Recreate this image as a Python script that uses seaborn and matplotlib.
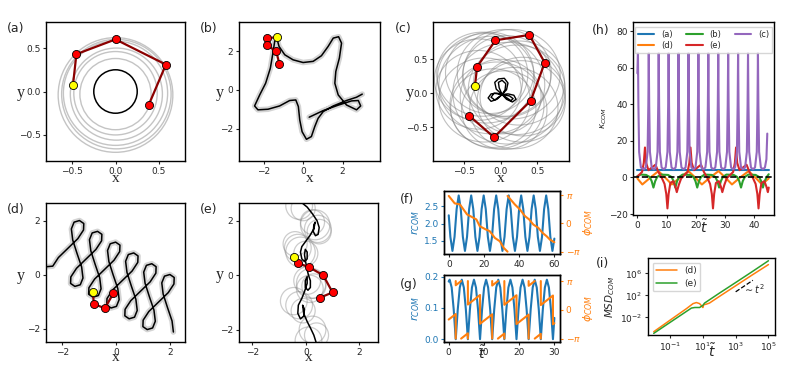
import numpy as np
import seaborn as sns
import matplotlib.pyplot as plt
from matplotlib.patches import Circle
from matplotlib.ticker import NullLocator

sns.set_style("ticks")
plt.rcParams["font.family"] = ["DejaVu Sans"]
plt.rcParams["mathtext.fontset"] = "dejavusans"
plt.rcParams["axes.edgecolor"] = "black"
plt.rcParams["axes.linewidth"] = 1.0
plt.rcParams["xtick.labelsize"] = 6.5
plt.rcParams["ytick.labelsize"] = 6.5
plt.rcParams["xtick.major.size"] = 2.5
plt.rcParams["ytick.major.size"] = 2.5
plt.rcParams["xtick.major.pad"] = 1.5
plt.rcParams["ytick.major.pad"] = 1.5

BLUE, ORANGE, GREEN, RED, PURPLE = "#1f77b4", "#ff7f0e", "#2ca02c", "#d62728", "#9467bd"

# ---------------- (a) ----------------
a_orbit_x = [0.0, 0.0, 0.01, 0.0, 0.01, 0.0]
a_orbit_y = [-0.03, -0.02, -0.03, -0.02, -0.03, -0.04]
a_orbit_r = [0.41, 0.48, 0.53, 0.60, 0.63, 0.66]
a_com_r = 0.25
a_chain_x = [-0.49, -0.45, 0.0, 0.58, 0.38]
a_chain_y = [0.07, 0.43, 0.60, 0.31, -0.16]

# ---------------- (b) ----------------
b_x = [0.31, 1.02, 1.78, 2.46, 2.80, 2.92, 2.71, 2.20, 1.78, 1.61, 1.66, 1.84, 1.95, 1.80,
       1.53, 1.27, 0.93, 0.51, 0.0, -0.51, -0.93, -1.22, -1.32, -1.44, -1.53, -1.66, -1.90,
       -2.20, -2.46, -2.29, -1.78, -1.19, -0.68, -0.37, -0.24, -0.17, -0.05, 0.17, 0.42,
       0.59, 0.76, 1.02, 1.53, 2.20, 2.71, 3.0]
b_y = [-1.41, -1.07, -0.79, -0.57, -0.55, -0.83, -1.03, -0.78, -0.26, 0.34, 0.95, 1.64, 2.41,
       2.74, 2.67, 2.24, 1.76, 1.47, 1.41, 1.55, 1.81, 2.24, 2.62, 2.50, 1.90, 1.12, 0.34,
       -0.26, -0.83, -1.03, -1.0, -0.83, -0.55, -0.52, -0.86, -1.55, -2.16, -2.55, -2.41,
       -1.90, -1.47, -1.12, -0.83, -0.55, -0.38, -0.22]
b_chain_x = [-1.34, -1.81, -1.83, -1.36, -1.20]
b_chain_y = [2.71, 2.67, 2.31, 1.98, 1.33]

# ---------------- (c) ----------------
c_orbit_x = [-0.30, -0.25, -0.15, 0.05, 0.15, 0.25, 0.30, 0.28, 0.18, 0.05, -0.10, -0.22,
             -0.30, -0.12, 0.10, 0.0, -0.20, 0.22, 0.08, -0.05]
c_orbit_y = [0.20, 0.28, 0.30, 0.30, 0.28, 0.15, -0.05, -0.12, -0.22, -0.25, -0.22, -0.10,
             0.05, 0.12, 0.0, -0.05, 0.22, 0.05, 0.25, -0.18]
c_orbit_r = [0.60, 0.62, 0.60, 0.64, 0.66, 0.62, 0.58, 0.60, 0.60, 0.58, 0.58, 0.62, 0.58,
             0.72, 0.75, 0.55, 0.66, 0.66, 0.60, 0.64]
c_com_x = [0.02, -0.06, -0.08, -0.03, 0.05, 0.10, 0.08, 0.02, 0.10, 0.18, 0.21, 0.16, 0.08,
           0.02, -0.05, -0.13, -0.17, -0.13, -0.05, 0.02, -0.02, -0.03, 0.02, 0.07, 0.06,
           0.02, 0.12, 0.17, 0.14, 0.02, -0.08, -0.13, -0.09, 0.02]
c_com_y = [-0.02, 0.06, 0.16, 0.21, 0.22, 0.15, 0.05, -0.02, -0.01, -0.03, -0.09, -0.13, -0.09,
           -0.02, -0.09, -0.12, -0.07, -0.01, 0.0, -0.02, 0.08, 0.16, 0.19, 0.14, 0.05,
           -0.02, -0.04, -0.08, -0.11, -0.02, -0.10, -0.06, 0.0, -0.02]
c_chain_x = [-0.35, -0.32, -0.07, 0.39, 0.60, 0.41, -0.09, -0.43]
c_chain_y = [0.10, 0.39, 0.78, 0.86, 0.45, -0.11, -0.65, -0.33]

# ---------------- (d) ----------------
d_x = [-2.70, -2.35, -2.14,
       -1.78, -1.42, -1.21, -1.20, -1.36, -1.56, -1.66, -1.61, -1.45, -1.28, -1.23, -1.33,
       -1.53, -1.69, -1.68, -1.47,
       -1.11, -0.75, -0.54, -0.53, -0.69, -0.89, -0.99, -0.94, -0.78, -0.61, -0.56, -0.66,
       -0.86, -1.02, -1.01, -0.80,
       -0.44, -0.08, 0.13, 0.14, -0.02, -0.22, -0.32, -0.27, -0.11, 0.06, 0.11, 0.01,
       -0.19, -0.35, -0.34, -0.13,
       0.23, 0.59, 0.80, 0.81, 0.65, 0.45, 0.35, 0.40, 0.56, 0.73, 0.78, 0.68,
       0.48, 0.32, 0.33, 0.54,
       0.90, 1.26, 1.47, 1.48, 1.32, 1.12, 1.02, 1.07, 1.23, 1.40, 1.45, 1.35,
       1.15, 0.99, 1.00, 1.21,
       1.57, 1.93, 2.14, 2.15, 1.99, 1.79, 1.69, 1.74, 1.90, 2.07, 2.12]
d_y = [0.28, 0.31, 0.63,
       0.98, 1.33, 1.65, 1.89, 2.00, 1.94, 1.69, 1.28, 0.78, 0.28, -0.13, -0.38,
       -0.44, -0.33, -0.09, 0.23,
       0.58, 0.93, 1.25, 1.49, 1.60, 1.54, 1.29, 0.88, 0.38, -0.12, -0.53, -0.78,
       -0.84, -0.73, -0.49, -0.17,
       0.18, 0.53, 0.85, 1.09, 1.20, 1.14, 0.89, 0.48, -0.02, -0.52, -0.93, -1.18,
       -1.24, -1.13, -0.89, -0.57,
       -0.22, 0.13, 0.45, 0.69, 0.80, 0.74, 0.49, 0.08, -0.42, -0.92, -1.33, -1.58,
       -1.64, -1.53, -1.29, -0.97,
       -0.62, -0.27, 0.05, 0.29, 0.40, 0.34, 0.09, -0.32, -0.82, -1.32, -1.73, -1.98,
       -2.04, -1.93, -1.69, -1.37,
       -1.02, -0.67, -0.35, -0.11, 0.00, -0.06, -0.31, -0.72, -1.22, -1.72, -2.13]
d_chain_x = [-0.86, -0.83, -0.42, -0.10]
d_chain_y = [-0.66, -1.09, -1.25, -0.69]

# ---------------- (e) ----------------
e_x = [-0.45, -0.2, 0.05, 0.25, 0.42, 0.5, 0.46, 0.36, 0.28, 0.3, 0.35, 0.3, 0.15, 0.0,
       -0.15, -0.2, -0.15, -0.05, 0.05, 0.05, -0.02, -0.05, 0.0, 0.05, 0.1, 0.17, 0.17, 0.08,
       -0.02, -0.02, 0.05, 0.05, -0.05, -0.15, -0.28, -0.3, -0.2, -0.08, -0.05, -0.12, -0.08,
       0.05, 0.18, 0.3, 0.38, 0.42]
e_y = [2.9, 2.7, 2.5, 2.25, 2.0, 1.75, 1.5, 1.45, 1.6, 1.85, 1.95, 1.7, 1.45, 1.25, 1.05,
       0.85, 0.6, 0.5, 0.6, 0.85, 0.95, 0.75, 0.45, 0.2, 0.0, -0.2, -0.45, -0.55, -0.45,
       -0.2, -0.05, -0.3, -0.6, -0.85, -1.1, -1.4, -1.6, -1.5, -1.25, -1.1, -1.4, -1.7,
       -1.95, -2.2, -2.45, -2.7]
e_orbit_x = [-0.25, -0.1, 0.35, 0.45, 0.25, -0.3, -0.2, 0.0, 0.2, 0.05, 0.3, -0.45, -0.25,
             -0.1, 0.25, 0.4, 0.1, 0.5, -0.4, 0.15]
e_orbit_y = [2.55, 2.45, 1.85, 1.7, 1.95, 1.0, 0.85, 0.8, -0.3, -0.2, -0.4, -0.95, -1.1,
             -1.3, -2.0, -2.2, -2.4, 1.6, 1.15, -0.5]
e_orbit_r = [0.5, 0.45, 0.55, 0.5, 0.45, 0.5, 0.55, 0.45, 0.55, 0.5, 0.45, 0.5, 0.5, 0.45,
             0.5, 0.45, 0.5, 0.45, 0.45, 0.5]
e_chain_x = [-0.46, -0.30, 0.13, 0.65, 1.00, 0.54]
e_chain_y = [0.66, 0.45, 0.29, 0.00, -0.63, -0.82]

# ---------------- (f) ----------------
f_t = [0.0, 0.92, 2.10, 3.28, 4.47, 5.65, 6.83, 8.02, 9.20, 10.38, 11.57, 12.75, 13.93,
       15.12, 16.30, 17.48, 18.67, 19.85, 21.03, 22.22, 23.40, 24.58, 25.77, 26.95, 28.13,
       29.32, 30.50, 31.68, 32.87, 34.05, 35.23, 36.42, 37.60, 38.78, 39.97, 41.15, 42.33,
       43.52, 44.70, 45.88, 47.07, 48.25, 49.43, 50.62, 51.80, 52.98, 54.17, 55.35, 56.53,
       57.72, 58.90, 60.0]
f_r = [2.24, 1.61, 1.20, 1.61, 2.42, 2.82, 2.42, 1.61, 1.20, 1.61, 2.42, 2.82, 2.42,
       1.61, 1.20, 1.61, 2.42, 2.82, 2.42, 1.61, 1.20, 1.61, 2.42, 2.82, 2.42,
       1.61, 1.20, 1.61, 2.42, 2.82, 2.42, 1.61, 1.20, 1.61, 2.42, 2.82, 2.42,
       1.61, 1.20, 1.61, 2.42, 2.82, 2.42, 1.61, 1.20, 1.61, 2.42, 2.82, 2.42,
       1.61, 1.20, 1.56]
f_phi_t = [0.0, 3.4, 6.3, 10.4, 12.9, 15.7, 17.6, 21.1, 23.3, 26.2, 29.0, 31.3, 33.4,
           33.4, 37.5, 40.4, 43.3, 45.7, 48.0, 50.9, 53.3, 55.6, 57.5, 60.0]
f_phi = [3.07, 2.24, 2.13, 1.01, 0.75, 0.45, -0.30, -0.67, -0.86, -1.61, -1.98, -2.73, -3.14,
         3.07, 2.13, 1.57, 0.82, 0.45, -0.11, -0.49, -1.05, -1.42, -1.80, -2.09]
f_phi_piece = [0] * 13 + [1] * 11

# ---------------- (g) ----------------
g_t = [0.0, 0.275, 0.85, 1.425, 2.0, 2.575, 3.15, 3.725, 4.3, 4.875, 5.45, 6.025, 6.6, 7.175,
       7.75, 8.325, 8.9, 9.475, 10.05, 10.625, 11.2, 11.775, 12.35, 12.925, 13.5, 14.075,
       14.65, 15.225, 15.8, 16.375, 16.95, 17.525, 18.1, 18.675, 19.25, 19.825, 20.4,
       20.975, 21.55, 22.125, 22.7, 23.275, 23.85, 24.425, 25.0, 25.575, 26.15, 26.725,
       27.3, 27.875, 28.45, 29.025, 29.6, 30.0]
g_r = [0.184, 0.19, 0.165, 0.095, 0.0, 0.095, 0.165, 0.19, 0.165, 0.095, 0.0, 0.095, 0.165,
       0.19, 0.165, 0.095, 0.0, 0.095, 0.165, 0.19, 0.165, 0.095, 0.0, 0.095, 0.165, 0.19,
       0.165, 0.095, 0.0, 0.095, 0.165, 0.19, 0.165, 0.095, 0.0, 0.095, 0.165, 0.19, 0.165,
       0.095, 0.0, 0.095, 0.165, 0.19, 0.165, 0.095, 0.0, 0.095, 0.165, 0.19, 0.165, 0.095,
       0.0, 0.068]
g_phi_t = [0.0, 2.0, 2.0, 2.0, 2.0, 3.53, 3.53, 5.45, 5.45, 5.45, 5.45, 8.9, 8.9, 12.35,
           12.35, 12.35, 12.35, 13.98, 13.98, 15.8, 15.8, 15.8, 15.8, 19.25, 19.25, 22.7,
           22.7, 22.7, 22.7, 24.43, 24.43, 26.15, 26.15, 26.15, 26.15, 29.6, 29.6, 30.0]
g_phi = [-1.06, -0.46, -3.14, 3.14, 2.68, 3.14, -3.14, -2.56, -3.14, 3.14, 0.58, 1.62, -1.52,
         -0.49, -3.14, 3.14, 2.65, 3.14, -3.14, -2.59, -3.14, 3.14, 0.55, 1.59, -1.55, -0.52,
         -3.14, 3.14, 2.62, 3.14, -3.14, -2.62, -3.14, 3.14, 0.52, 1.56, -1.58, -1.46]
g_phi_piece = [0, 0, 0, 1, 1, 1, 2, 2, 2, 3, 3, 3, 3, 3, 3, 4, 4, 4, 5, 5, 5, 6, 6, 6, 6, 6,
               6, 7, 7, 7, 8, 8, 8, 9, 9, 9, 9, 9]

# ---------------- (h) ----------------
h_a_t = [0.0, 45.0]
h_a = [4.0, 4.0]
h_c_t = [0.0, 0.2, 0.35, 0.6, 1.2, 2.2,
         2.9, 3.5, 3.75, 3.9, 4.05, 4.3, 4.9, 5.6,
         6.3, 6.9, 7.15, 7.3, 7.45, 7.7, 8.3, 9.0,
         9.7, 10.3, 10.55, 10.7, 10.85, 11.1, 11.7, 12.4,
         13.1, 13.7, 13.95, 14.1, 14.25, 14.5, 15.1, 15.8,
         16.5, 17.1, 17.35, 17.5, 17.65, 17.9, 18.5, 19.2,
         19.9, 20.5, 20.75, 20.9, 21.05, 21.3, 21.9, 22.6,
         23.3, 23.9, 24.15, 24.3, 24.45, 24.7, 25.3, 26.0,
         26.7, 27.3, 27.55, 27.7, 27.85, 28.1, 28.7, 29.4,
         30.1, 30.7, 30.95, 31.1, 31.25, 31.5, 32.1, 32.8,
         33.5, 34.1, 34.35, 34.5, 34.65, 34.9, 35.5, 36.2,
         36.9, 37.5, 37.75, 37.9, 38.05, 38.3, 38.9, 39.6,
         40.3, 40.9, 41.15, 41.3, 41.45, 41.7, 42.3, 43.0,
         43.7, 44.2, 44.5]
h_c = [57, 68, 40, 14, 5.5, 4.5] + [5.5, 14, 40, 68, 40, 14, 5.5, 4.5] * 12 + [5.5, 10, 24]
h_b_t = [0.0, 1.2, 3.0, 4.2, 4.9, 5.5, 6.1, 6.8, 8.0, 10.5, 11.7, 12.4, 13.0, 13.6, 14.3, 15.5,
         18.0, 19.2, 19.9, 20.5, 21.1, 21.8, 23.0, 25.5, 26.7, 27.4, 28.0, 28.6, 29.3, 30.5,
         33.0, 34.2, 34.9, 35.5, 36.1, 36.8, 38.0, 40.5, 41.7, 42.4, 43.0, 43.6, 44.3, 45.0]
h_b = [0.8, 1.6, 1.4, 0.3, -2.0, -5.5, -2.0, 0.3, 1.6, 1.4, 0.3, -2.0, -5.5, -2.0, 0.3, 1.6,
       1.4, 0.3, -2.0, -5.5, -2.0, 0.3, 1.6, 1.4, 0.3, -2.0, -5.5, -2.0, 0.3, 1.6,
       1.4, 0.3, -2.0, -5.5, -2.0, 0.3, 1.6, 1.4, 0.3, -2.0, -5.5, -2.0, 0.3, 1.8]
h_d_t = [0.0, 1.7, 4.5, 7.2, 9.5, 11.8, 14.6, 17.5, 19.8, 22.1, 24.9, 27.8, 30.1, 32.4, 35.2,
         38.1, 40.4, 42.7, 45.0]
h_d = [-0.5, -3.8, 0.0, 3.5, 0.0, -3.8, 0.0, 3.5, 0.0, -3.8, 0.0, 3.5, 0.0, -3.8, 0.0, 3.5,
       0.0, -3.8, -0.5]
h_e_t = [0.0, 1.6, 2.2, 2.6, 3.0, 3.8, 5.0, 6.2, 7.2, 8.3, 9.3, 9.9, 10.3, 10.7, 11.3, 12.3,
         13.0, 13.5, 14.2, 15.0,
         15.6, 17.2, 17.8, 18.2, 18.6, 19.4, 20.6, 21.8, 22.8, 23.9, 24.9, 25.5, 25.9, 26.3,
         26.9, 27.9, 28.6, 29.1, 29.8, 30.6,
         31.2, 32.8, 33.4, 33.8, 34.2, 35.0, 36.2, 37.4, 38.4, 39.5, 40.5, 41.1, 41.5, 41.9,
         42.5, 43.5, 44.2, 44.7, 45.0]
h_e = [0.5, 3.0, 8.0, 16.4, 8.0, 4.0, 5.5, 7.0, 3.0, 0.0, -3.5, -9.0, -16.9, -9.0, -3.0, -2.0,
       -5.0, -8.0, -4.0, -0.5,
       0.5, 3.0, 8.0, 16.4, 8.0, 4.0, 5.5, 7.0, 3.0, 0.0, -3.5, -9.0, -16.9, -9.0, -3.0, -2.0,
       -5.0, -8.0, -4.0, -0.5,
       0.5, 3.0, 8.0, 16.4, 8.0, 4.0, 5.5, 7.0, 3.0, 0.0, -3.5, -9.0, -16.9, -9.0, -3.0, -2.0,
       -5.0, -8.0, -5.5]

# ---------------- (i) ----------------
i_d_t = [0.01, 0.1, 1.0, 2.5, 4.0, 6.3, 8.9, 10.0, 11.2, 15.8, 25.0, 100.0, 1e3, 1e4, 1e5]
i_d = [2.5e-5, 3.2e-3, 0.40, 3.2, 5.0, 3.2, 1.0, 0.63, 2.0, 2.5, 4.0, 63.0, 5.6e3, 5.0e5, 4.0e7]
i_e_t = [0.01, 0.1, 1.0, 2.0, 3.2, 6.3, 10.0, 12.6, 100.0, 1e3, 1e4, 1e5]
i_e = [1.26e-5, 1.26e-3, 0.126, 0.5, 0.63, 0.63, 1.58, 4.0, 250.0, 2.2e4, 2.0e6, 2.0e8]
i_guide_t = [1e3, 1.12e4]
i_guide = [450.0, 5.6e4]


fig = plt.figure(figsize=(7.93, 3.65), dpi=100)


def box(l, t, r, b):
    return fig.add_axes([l / 793, 1 - b / 365, (r - l) / 793, (b - t) / 365])


def draw(ax, x, y, **kw):
    sns.lineplot(x=x, y=y, ax=ax, sort=False, estimator=None, **kw)


def chain(ax, x, y):
    draw(ax, x, y, color="#8b0000", lw=1.6, zorder=4)
    sns.scatterplot(x=x[1:], y=y[1:], ax=ax, color="red", edgecolor="black", s=34,
                    linewidth=0.6, zorder=5)
    sns.scatterplot(x=x[:1], y=y[:1], ax=ax, color="yellow", edgecolor="black", s=34,
                    linewidth=0.6, zorder=5)


def space_labels(ax, letter, ylx, yly, xly):
    ax.set_xlabel("x", family="Liberation Serif", fontsize=11, va="baseline")
    ax.xaxis.set_label_coords(0.5, xly)
    ax.set_ylabel("y", family="Liberation Serif", fontsize=11.5, rotation=0, va="baseline",
                  ha="center")
    ax.yaxis.set_label_coords(ylx, yly)
    ax.text(-0.28, 0.955, letter, transform=ax.transAxes, fontsize=9, va="center")


def circles(ax, xs, ys, rs, color, lw, alpha):
    for cx, cy, r in zip(xs, ys, rs):
        ax.add_patch(Circle((cx, cy), r, fill=False, ec=color, lw=lw, alpha=alpha, zorder=1))


# (a)
ax = box(46, 22, 185, 161)
circles(ax, a_orbit_x, a_orbit_y, a_orbit_r, "#c4c4c4", 1.0, 1.0)
ax.add_patch(Circle((0, 0), a_com_r, fill=False, ec="black", lw=1.1, zorder=3))
chain(ax, a_chain_x, a_chain_y)
ax.set_xlim(-0.8, 0.8)
ax.set_ylim(-0.8, 0.8)
ax.set_xticks([-0.5, 0.0, 0.5])
ax.set_yticks([-0.5, 0.0, 0.5])
space_labels(ax, "(a)", -0.18, 0.464, -0.15)

# (b)
ax = box(239, 22, 380, 161)
draw(ax, b_x, b_y, color="#d4d4d4", lw=4, zorder=1)
draw(ax, b_x, b_y, color="black", lw=1.1, zorder=3)
chain(ax, b_chain_x, b_chain_y)
ax.set_xlim(-3.25, 3.9)
ax.set_ylim(-3.67, 3.5)
ax.set_xticks([-2, 0, 2])
ax.set_yticks([-2, 0, 2])
space_labels(ax, "(b)", -0.135, 0.464, -0.15)

# (c)
ax = box(433, 22, 569, 161)
circles(ax, c_orbit_x, c_orbit_y, c_orbit_r, "gray", 0.8, 0.5)
draw(ax, c_com_x, c_com_y, color="black", lw=1.0, zorder=3)
chain(ax, c_chain_x, c_chain_y)
ax.set_xlim(-0.92, 0.93)
ax.set_ylim(-1.0, 1.05)
ax.set_xticks([-0.5, 0.0, 0.5])
ax.set_yticks([-0.5, 0.0, 0.5])
space_labels(ax, "(c)", -0.17, 0.464, -0.15)

# (d)
ax = box(46, 203, 185, 342)
draw(ax, d_x, d_y, color="#d4d4d4", lw=4, zorder=1)
draw(ax, d_x, d_y, color="black", lw=1.1, zorder=3)
chain(ax, d_chain_x, d_chain_y)
ax.set_xlim(-2.6, 2.55)
ax.set_ylim(-2.5, 2.65)
ax.set_xticks([-2, 0, 2])
ax.set_yticks([-2, 0, 2])
space_labels(ax, "(d)", -0.18, 0.446, -0.138)

# (e)
ax = box(239, 203, 378, 342)
circles(ax, e_orbit_x, e_orbit_y, e_orbit_r, "gray", 0.9, 0.4)
draw(ax, e_x, e_y, color="black", lw=1.1, zorder=3)
chain(ax, e_chain_x, e_chain_y)
ax.set_xlim(-2.5, 2.7)
ax.set_ylim(-2.45, 2.65)
ax.set_xticks([-2, 0, 2])
ax.set_yticks([-2, 0, 2])
space_labels(ax, "(e)", -0.14, 0.453, -0.138)


def twin_panel(l, t, r, b, time, rad, rlim, rticks, pt, ph, piece, plim, xlim, xticks, letter):
    ax = box(l, t, r, b)
    draw(ax, time, rad, color=BLUE, lw=1.5)
    ax.set_xlim(*xlim)
    ax.set_ylim(*rlim)
    ax.set_xticks(xticks)
    ax.set_yticks(rticks)
    ax.tick_params(axis="y", colors=BLUE, labelsize=6.5)
    ax.tick_params(axis="x", labelsize=6.5)
    ax.spines["left"].set_color("black")
    ax.set_ylabel("$r_{COM}$", color=BLUE, fontsize=8, labelpad=1)
    ax.yaxis.set_label_coords(-0.19, 0.5)
    ax2 = ax.twinx()
    sns.lineplot(x=pt, y=ph, units=piece, estimator=None, sort=False, ax=ax2, color=ORANGE,
                 lw=1.5)
    ax2.set_ylim(*plim)
    ax2.set_yticks([-np.pi, 0, np.pi])
    ax2.set_yticklabels(["$-\\pi$", "0", "$\\pi$"])
    ax2.tick_params(axis="y", colors=ORANGE, labelsize=6.5)
    ax2.spines["right"].set_color("black")
    ax2.set_ylabel("$\\phi_{COM}$", color=ORANGE, fontsize=8)
    ax2.yaxis.set_label_coords(1.18, 0.5)
    ax.text(-0.38, 0.86, letter, transform=ax.transAxes, fontsize=9, va="center")
    return ax


twin_panel(444, 191, 560, 254, f_t, f_r, (1.11, 2.95), [1.5, 2.0, 2.5], f_phi_t, f_phi,
           f_phi_piece, (-3.40, 3.62), (-2.7, 63.2), [0, 20, 40, 60], "(f)")
ax = twin_panel(444, 275, 560, 342, g_t, g_r, (-0.009, 0.205), [0.0, 0.1, 0.2], g_phi_t,
                g_phi, g_phi_piece, (-3.51, 3.80), (-1.33, 31.6), [0, 10, 20, 30], "(g)")
ax.set_xlabel("$\\tilde{t}$", fontsize=10, va="baseline")
ax.xaxis.set_label_coords(0.33, -0.25)

# (h)
ax = box(633, 22, 774, 215)
draw(ax, h_a_t, h_a, color=BLUE, lw=1.5, label="(a)")
draw(ax, h_d_t, h_d, color=ORANGE, lw=1.5, label="(d)")
draw(ax, h_b_t, h_b, color=GREEN, lw=1.5, label="(b)")
draw(ax, h_e_t, h_e, color=RED, lw=1.5, label="(e)")
draw(ax, h_c_t, h_c, color=PURPLE, lw=1.5, label="(c)")
ax.axhline(0, color="black", ls="--", lw=1.2)
ax.set_xlim(-1.5, 46.8)
ax.set_ylim(-20.5, 85)
ax.set_xticks([0, 10, 20, 30, 40])
ax.set_yticks([-20, 0, 20, 40, 60, 80])
ax.set_ylabel("$\\kappa_{COM}$", fontsize=6.5)
ax.yaxis.set_label_coords(-0.17, 0.5)
ax.set_xlabel("$\\tilde{t}$", fontsize=10, va="baseline")
ax.xaxis.set_label_coords(0.5, -0.095)
ax.legend(ncol=3, loc="upper center", fontsize=6, frameon=True, handlelength=2.0,
          columnspacing=1.6, borderpad=0.3, labelspacing=0.3, fancybox=False,
          edgecolor="#cccccc", bbox_to_anchor=(0.5, 0.995))
ax.text(-0.29, 0.955, "(h)", transform=ax.transAxes, fontsize=9, va="center")

# (i)
ax = box(648, 258, 775, 335)
draw(ax, i_d_t, i_d, color=ORANGE, lw=1.1, label="(d)")
draw(ax, i_e_t, i_e, color=GREEN, lw=1.1, label="(e)")
draw(ax, i_guide_t, i_guide, color="black", lw=0.9, ls="--")
ax.set_xscale("log")
ax.set_yscale("log")
ax.set_xlim(10 ** -2.35, 10 ** 5.4)
ax.set_ylim(10 ** -5.2, 10 ** 8.8)
ax.set_xticks([1e-1, 1e1, 1e3, 1e5])
ax.set_yticks([1e-2, 1e2, 1e6])
ax.xaxis.set_minor_locator(NullLocator())
ax.yaxis.set_minor_locator(NullLocator())
ax.text(1.4e4, 1.4e3, "$\\sim t^2$", fontsize=7, ha="center", va="center")
ax.set_ylabel("$MSD_{COM}$", fontsize=7.5)
ax.yaxis.set_label_coords(-0.245, 0.5)
ax.set_xlabel("$\\tilde{t}$", fontsize=10, va="baseline")
ax.xaxis.set_label_coords(0.5, -0.29)
ax.legend(loc="upper left", fontsize=6.5, handlelength=2.3, borderpad=0.4,
          labelspacing=0.4, fancybox=True)
ax.text(-0.41, 0.93, "(i)", transform=ax.transAxes, fontsize=9, va="center")

fig.savefig("out.png", dpi=100)
